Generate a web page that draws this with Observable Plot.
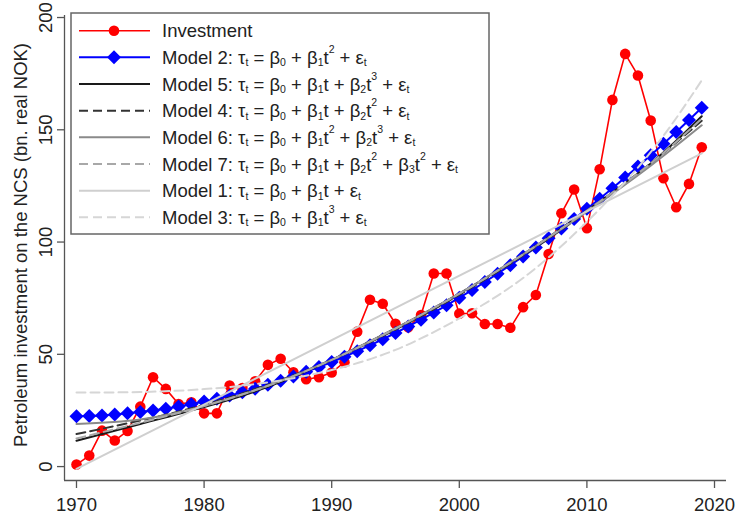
<!DOCTYPE html>
<html><head><meta charset="utf-8">
<script src="https://cdn.jsdelivr.net/npm/d3@7"></script>
<script src="https://cdn.jsdelivr.net/npm/@observablehq/plot@0.6"></script>
<style>
html,body{margin:0;padding:0;background:#fff;}
#chart{position:relative;width:735px;height:521px;}
</style></head><body><div id="chart"></div>
<script>
// ---- data ----
const years = d3.range(1970, 2020);
const investment = [0.9,4.9,16.0,11.6,15.9,26.7,39.8,34.6,27.9,28.6,
  23.7,23.7,36.1,35.0,38.0,45.3,48.0,42.0,38.9,39.8,
  41.9,46.5,60.1,74.3,72.5,63.6,62.0,67.5,86.0,86.0,
  68.1,68.3,63.5,63.5,61.8,71.0,76.4,94.7,112.8,123.4,
  106.2,132.4,163.3,183.8,174.2,154.1,128.4,115.5,125.9,142.2];
const model2 = [22.4,22.5,22.8,23.2,23.7,24.3,25.0,25.8,26.8,27.8,
  29.0,30.2,31.6,33.1,34.7,36.4,38.2,40.1,42.2,44.3,
  46.6,48.9,51.4,54.0,56.7,59.5,62.4,65.4,68.6,71.8,
  75.2,78.6,82.2,85.9,89.7,93.6,97.6,101.7,106.0,110.3,
  114.8,119.3,124.0,128.8,133.7,138.7,143.8,149.0,154.4,159.8];
const fitYears = [1970,1975,1980,1985,1990,1995,2000,2005,2010,2015,2019];
const model5 = [11.5,19,26.5,35.5,47.5,61.5,77,94.5,114,135,156];
const model4 = [14.5,20.5,27.5,36.5,47.5,61,76.5,94,113.5,135,154];
const model6 = [19,21,27,36,47.5,61.5,77,94.5,113.5,134,152];
const model7 = [12.5,19.5,27,36,47.5,61.5,77,94.5,114,135,155];
const model3 = [33,33.2,34.5,37.5,43,52,66,84,109,140,172];
const model1Years = [1970, 2019];
const model1 = [-1, 139.5];
const xTicks = [1970,1980,1990,2000,2010,2020];
const yTicks = [0,50,100,150,200];
const yTitle = "Petroleum investment on the NCS (bn. real NOK)";
const legendLabels = [
  "Investment",
  "Model 2: τ_t = β_0 + β_1t^2 + ε_t",
  "Model 5: τ_t = β_0 + β_1t + β_2t^3 + ε_t",
  "Model 4: τ_t = β_0 + β_1t + β_2t^2 + ε_t",
  "Model 6: τ_t = β_0 + β_1t^2 + β_2t^3 + ε_t",
  "Model 7: τ_t = β_0 + β_1t + β_2t^2 + β_3t^2 + ε_t",
  "Model 1: τ_t = β_0 + β_1t + ε_t",
  "Model 3: τ_t = β_0 + β_1t^3 + ε_t"
];

// ---- tables ----
const inv = years.map((y,i)=>({year:y, value:investment[i]}));
const m2 = years.map((y,i)=>({year:y, value:model2[i]}));
const tbl = (xs, vs) => xs.map((y,i)=>({year:y, value:vs[i]}));
const m5 = tbl(fitYears, model5), m4 = tbl(fitYears, model4), m6 = tbl(fitYears, model6),
      m7 = tbl(fitYears, model7), m3 = tbl(fitYears, model3), m1 = tbl(model1Years, model1);

const W=735, H=521, mL=64, mR=9, mT=15, mB=41;
const xDom=[1969.06, 2020.94], yDom=[-6.2, 200.9];
const FONT = "'Liberation Sans', Arial, Helvetica, sans-serif";
const FS = 18.5;
const axisCol = "#555";

const chart = Plot.plot({
  width: W, height: H, marginLeft: mL, marginRight: mR, marginTop: mT, marginBottom: mB,
  style: {fontFamily: FONT, fontSize: FS + "px", color: "#222", background: "white", overflow: "visible"},
  x: {domain: xDom, label: null},
  y: {domain: yDom, label: null},
  marks: [
    Plot.ruleY([yDom[0]], {stroke: axisCol, strokeWidth: 1.3}),
    Plot.ruleX([xDom[0]], {stroke: axisCol, strokeWidth: 1.3}),
    Plot.axisX({ticks: xTicks, tickFormat: d => String(d), tickSize: 8, tickPadding: 9, stroke: axisCol, strokeWidth: 1.3, fill: "#222", label: null}),
    Plot.axisY({ticks: yTicks, tickFormat: d => String(d), tickSize: 7, tickPadding: 6, tickRotate: -90, stroke: axisCol, strokeWidth: 1.3, fill: "#222", label: null}),
    Plot.line(inv, {x: "year", y: "value", stroke: "#ff0000", strokeWidth: 1.6}),
    Plot.dot(inv, {x: "year", y: "value", r: 5.3, fill: "#ff0000", stroke: "none"}),
    Plot.line(m2, {x: "year", y: "value", stroke: "#0000ff", strokeWidth: 2}),
    Plot.dot(m2, {x: "year", y: "value", symbol: "diamond2", r: 6.3, fill: "#0000ff", stroke: "none"}),
    Plot.line(m5, {x: "year", y: "value", curve: "natural", stroke: "#1a1a1a", strokeWidth: 2}),
    Plot.line(m4, {x: "year", y: "value", curve: "natural", stroke: "#333333", strokeWidth: 2, strokeDasharray: "9,5"}),
    Plot.line(m6, {x: "year", y: "value", curve: "natural", stroke: "#8a8a8a", strokeWidth: 2}),
    Plot.line(m7, {x: "year", y: "value", curve: "natural", stroke: "#a8a8a8", strokeWidth: 2, strokeDasharray: "9,5"}),
    Plot.line(m1, {x: "year", y: "value", stroke: "#cfcfcf", strokeWidth: 2}),
    Plot.line(m3, {x: "year", y: "value", curve: "natural", stroke: "#d6d6d6", strokeWidth: 2, strokeDasharray: "9,5"})
  ]
});
document.getElementById("chart").appendChild(chart);

const svg = d3.select(chart);
// y axis title
svg.append("text")
  .attr("transform", "translate(27,245) rotate(-90)")
  .attr("text-anchor", "middle")
  .attr("font-family", FONT).attr("font-size", FS).attr("fill", "#222")
  .text(yTitle);

// legend
const lg = svg.append("g").attr("font-family", FONT).attr("font-size", FS).attr("fill", "#222")
  .attr("text-anchor", "start");
lg.append("rect").attr("x", 71).attr("y", 13).attr("width", 418).attr("height", 221)
  .attr("fill", "white").attr("stroke", "#666").attr("stroke-width", 1.5);
const rowY = i => 30.7 + i * 26.66;
const lstyles = [
  {stroke:"#ff0000", w:1.6, dash:null, mark:"circle"},
  {stroke:"#0000ff", w:2, dash:null, mark:"diamond"},
  {stroke:"#1a1a1a", w:2, dash:null},
  {stroke:"#333333", w:2, dash:"9,5"},
  {stroke:"#8a8a8a", w:2, dash:null},
  {stroke:"#a8a8a8", w:2, dash:"9,5"},
  {stroke:"#cfcfcf", w:2, dash:null},
  {stroke:"#d6d6d6", w:2, dash:"9,5"}
];
legendLabels.forEach((lab, i) => {
  const y = rowY(i), s = lstyles[i];
  const ln = lg.append("line").attr("x1", 79).attr("x2", 150).attr("y1", y).attr("y2", y)
    .attr("stroke", s.stroke).attr("stroke-width", s.w);
  if (s.dash) ln.attr("stroke-dasharray", s.dash);
  if (s.mark === "circle") lg.append("circle").attr("cx", 114).attr("cy", y).attr("r", 5.3).attr("fill", s.stroke);
  if (s.mark === "diamond") lg.append("path").attr("d", `M114,${y-7}L${121},${y}L114,${y+7}L${107},${y}Z`).attr("fill", s.stroke);
  const t = lg.append("text").attr("x", 162).attr("y", y + 6.6).attr("text-anchor", "start");
  const parts = lab.split(/([_^].)/).filter(p => p.length);
  let off = 0;
  parts.forEach(p => {
    let target = 0, txt = p, fs = null;
    if (p[0] === "_" && p.length === 2) { target = 2.5; txt = p[1]; fs = 10.5; }
    else if (p[0] === "^" && p.length === 2) { target = -11; txt = p[1]; fs = 10.5; }
    const ts = t.append("tspan").attr("dy", target - off).text(txt);
    if (fs) ts.attr("font-size", fs);
    off = target;
  });
});
</script>
</body></html>
